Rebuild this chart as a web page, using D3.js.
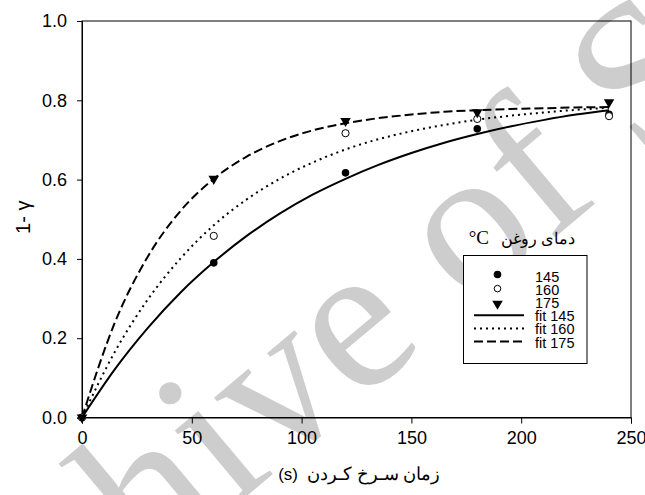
<!DOCTYPE html>
<html>
<head>
<meta charset="utf-8">
<script src="https://cdn.jsdelivr.net/npm/d3@7"></script>
<style>
  body { margin: 0; background: #fff; }
  svg { display: block; }
</style>
</head>
<body>
<div id="chart"></div>
<script>
// measured points (time in s, 1-gamma)
const times = [0, 60, 120, 180, 240];
const obs145 = [0, 0.39, 0.617, 0.728, 0.765];
const obs160 = [0, 0.458, 0.717, 0.753, 0.760];
const obs175 = [0, 0.602, 0.748, 0.770, 0.795];

// fitted curves every 15 s
const fitTimes = [0, 15, 30, 45, 60, 75, 90, 105, 120, 135, 150, 165, 180, 195, 210, 225, 240];
const fit145 = [0, 0.122, 0.226, 0.316, 0.392, 0.458, 0.514, 0.562, 0.602, 0.637, 0.667, 0.693, 0.715, 0.734, 0.750, 0.764, 0.775];
const fit160 = [0, 0.166, 0.298, 0.402, 0.485, 0.550, 0.602, 0.643, 0.676, 0.702, 0.722, 0.738, 0.751, 0.761, 0.769, 0.776, 0.781];
const fit175 = [0, 0.240, 0.406, 0.522, 0.602, 0.658, 0.697, 0.724, 0.742, 0.755, 0.764, 0.771, 0.775, 0.778, 0.780, 0.782, 0.783];

const xTicks = [0, 50, 100, 150, 200, 250];
const yTicks = [0, 0.2, 0.4, 0.6, 0.8, 1.0];
const legendLabels = ["145", "160", "175", "fit 145", "fit 160", "fit 175"];

const width = 645, height = 495;
const margin = { left: 82, right: 14, top: 21, bottom: 77.5 };
const graphWidth = width - margin.left - margin.right;
const graphHeight = height - margin.top - margin.bottom;

const sans = "Liberation Sans, Arial, sans-serif";
const serif = "Liberation Serif, DejaVu Serif, serif";

const svg = d3.select("#chart").append("svg")
  .attr("width", width)
  .attr("height", height);

// watermark behind everything
svg.append("text")
  .attr("transform", "translate(362,338) rotate(-40)")
  .attr("x", -630)
  .attr("y", 47)
  .attr("font-family", serif)
  .attr("font-size", 210)
  .attr("fill", "#cdcdcd")
  .text("Archive of SID");

const graph = svg.append("g")
  .attr("transform", `translate(${margin.left}, ${margin.top})`);

const x = d3.scaleLinear().domain([0, 250]).range([0, graphWidth]);
const y = d3.scaleLinear().domain([0, 1]).range([graphHeight, 0]);

// frame
graph.append("rect")
  .attr("width", graphWidth)
  .attr("height", graphHeight)
  .attr("fill", "none")
  .attr("stroke", "#000")
  .attr("stroke-width", 1);

const xAxis = d3.axisBottom(x).tickValues(xTicks).tickSize(6).tickPadding(8).tickFormat(d3.format("d"));
const yAxis = d3.axisLeft(y).tickValues(yTicks).tickSize(5).tickPadding(10).tickFormat(d3.format(".1f"));

const xAxisGroup = graph.append("g")
  .attr("transform", `translate(0, ${graphHeight})`)
  .call(xAxis);
const yAxisGroup = graph.append("g").call(yAxis);

[xAxisGroup, yAxisGroup].forEach(g => {
  g.select(".domain").attr("stroke", "#000");
  g.selectAll(".tick line").attr("stroke", "#000");
  g.selectAll("text")
    .attr("font-family", sans)
    .attr("font-size", 18)
    .attr("fill", "#000");
});

// fitted lines
const line = d3.line()
  .x(d => x(d[0]))
  .y(d => y(d[1]))
  .curve(d3.curveMonotoneX);

const fits = [
  { vals: fit145, dash: null },
  { vals: fit160, dash: "2,4" },
  { vals: fit175, dash: "9,4" }
];

fits.forEach(f => {
  graph.append("path")
    .datum(fitTimes.map((t, i) => [t, f.vals[i]]))
    .attr("d", line)
    .attr("fill", "none")
    .attr("stroke", "#000")
    .attr("stroke-width", 2)
    .attr("stroke-dasharray", f.dash);
});

// markers
const tri = d3.symbol().type(d3.symbolTriangle).size(48);

graph.selectAll(".p145").data(times.map((t, i) => [t, obs145[i]]))
  .enter().append("circle")
  .attr("cx", d => x(d[0])).attr("cy", d => y(d[1]))
  .attr("r", 3.8).attr("fill", "#000");

graph.selectAll(".p160").data(times.map((t, i) => [t, obs160[i]]))
  .enter().append("circle")
  .attr("cx", d => x(d[0])).attr("cy", d => y(d[1]))
  .attr("r", 3.6).attr("fill", "#fff").attr("stroke", "#000").attr("stroke-width", 1);

graph.selectAll(".p175").data(times.map((t, i) => [t, obs175[i]]))
  .enter().append("path")
  .attr("d", tri)
  .attr("transform", d => `translate(${x(d[0])}, ${y(d[1])}) rotate(180)`)
  .attr("fill", "#000");

// axis titles
svg.append("text")
  .attr("transform", `translate(30, ${margin.top + graphHeight / 2 - 2}) rotate(-90)`)
  .attr("text-anchor", "middle")
  .attr("font-family", sans)
  .attr("font-size", 20)
  .text("1- γ");

svg.append("text")
  .attr("x", 440)
  .attr("y", 480)
  .attr("text-anchor", "end")
  .attr("font-family", serif)
  .attr("font-size", 18)
  .text("زمان سـرخ کـردن");

svg.append("text")
  .attr("x", 298)
  .attr("y", 480)
  .attr("text-anchor", "end")
  .attr("font-family", sans)
  .attr("font-size", 17)
  .text("(s)");

// legend title
svg.append("text")
  .attr("x", 575)
  .attr("y", 244)
  .attr("text-anchor", "end")
  .attr("font-family", serif)
  .attr("font-size", 16)
  .text("دمای روغن");

svg.append("text")
  .attr("x", 489)
  .attr("y", 244)
  .attr("text-anchor", "end")
  .attr("font-family", serif)
  .attr("font-size", 19)
  .text("°C");

const legend = svg.append("g").attr("transform", "translate(463.5, 255.5)");
legend.append("rect")
  .attr("width", 123.5).attr("height", 108)
  .attr("fill", "#fff").attr("stroke", "#000").attr("stroke-width", 1);

const rowY = i => 21.5 + i * 13.1;
const symX = 34;

legend.append("circle").attr("cx", symX).attr("cy", rowY(0) - 2.5).attr("r", 3.8).attr("fill", "#000");
legend.append("circle").attr("cx", symX).attr("cy", rowY(1) - 1.5).attr("r", 3.3)
  .attr("fill", "#fff").attr("stroke", "#000");
legend.append("path").attr("d", tri)
  .attr("transform", `translate(${symX}, ${rowY(2) + 0.5}) rotate(180)`).attr("fill", "#000");

fits.forEach((f, i) => {
  legend.append("line")
    .attr("x1", 10.5).attr("x2", 60.5)
    .attr("y1", rowY(3 + i) - 1).attr("y2", rowY(3 + i) - 1)
    .attr("stroke", "#000").attr("stroke-width", 2)
    .attr("stroke-dasharray", f.dash);
});

legend.selectAll(".lab").data(legendLabels)
  .enter().append("text")
  .attr("x", 71.5)
  .attr("y", (d, i) => rowY(i))
  .attr("dy", "0.35em")
  .attr("font-family", sans)
  .attr("font-size", 14.5)
  .text(d => d);
</script>
</body>
</html>
